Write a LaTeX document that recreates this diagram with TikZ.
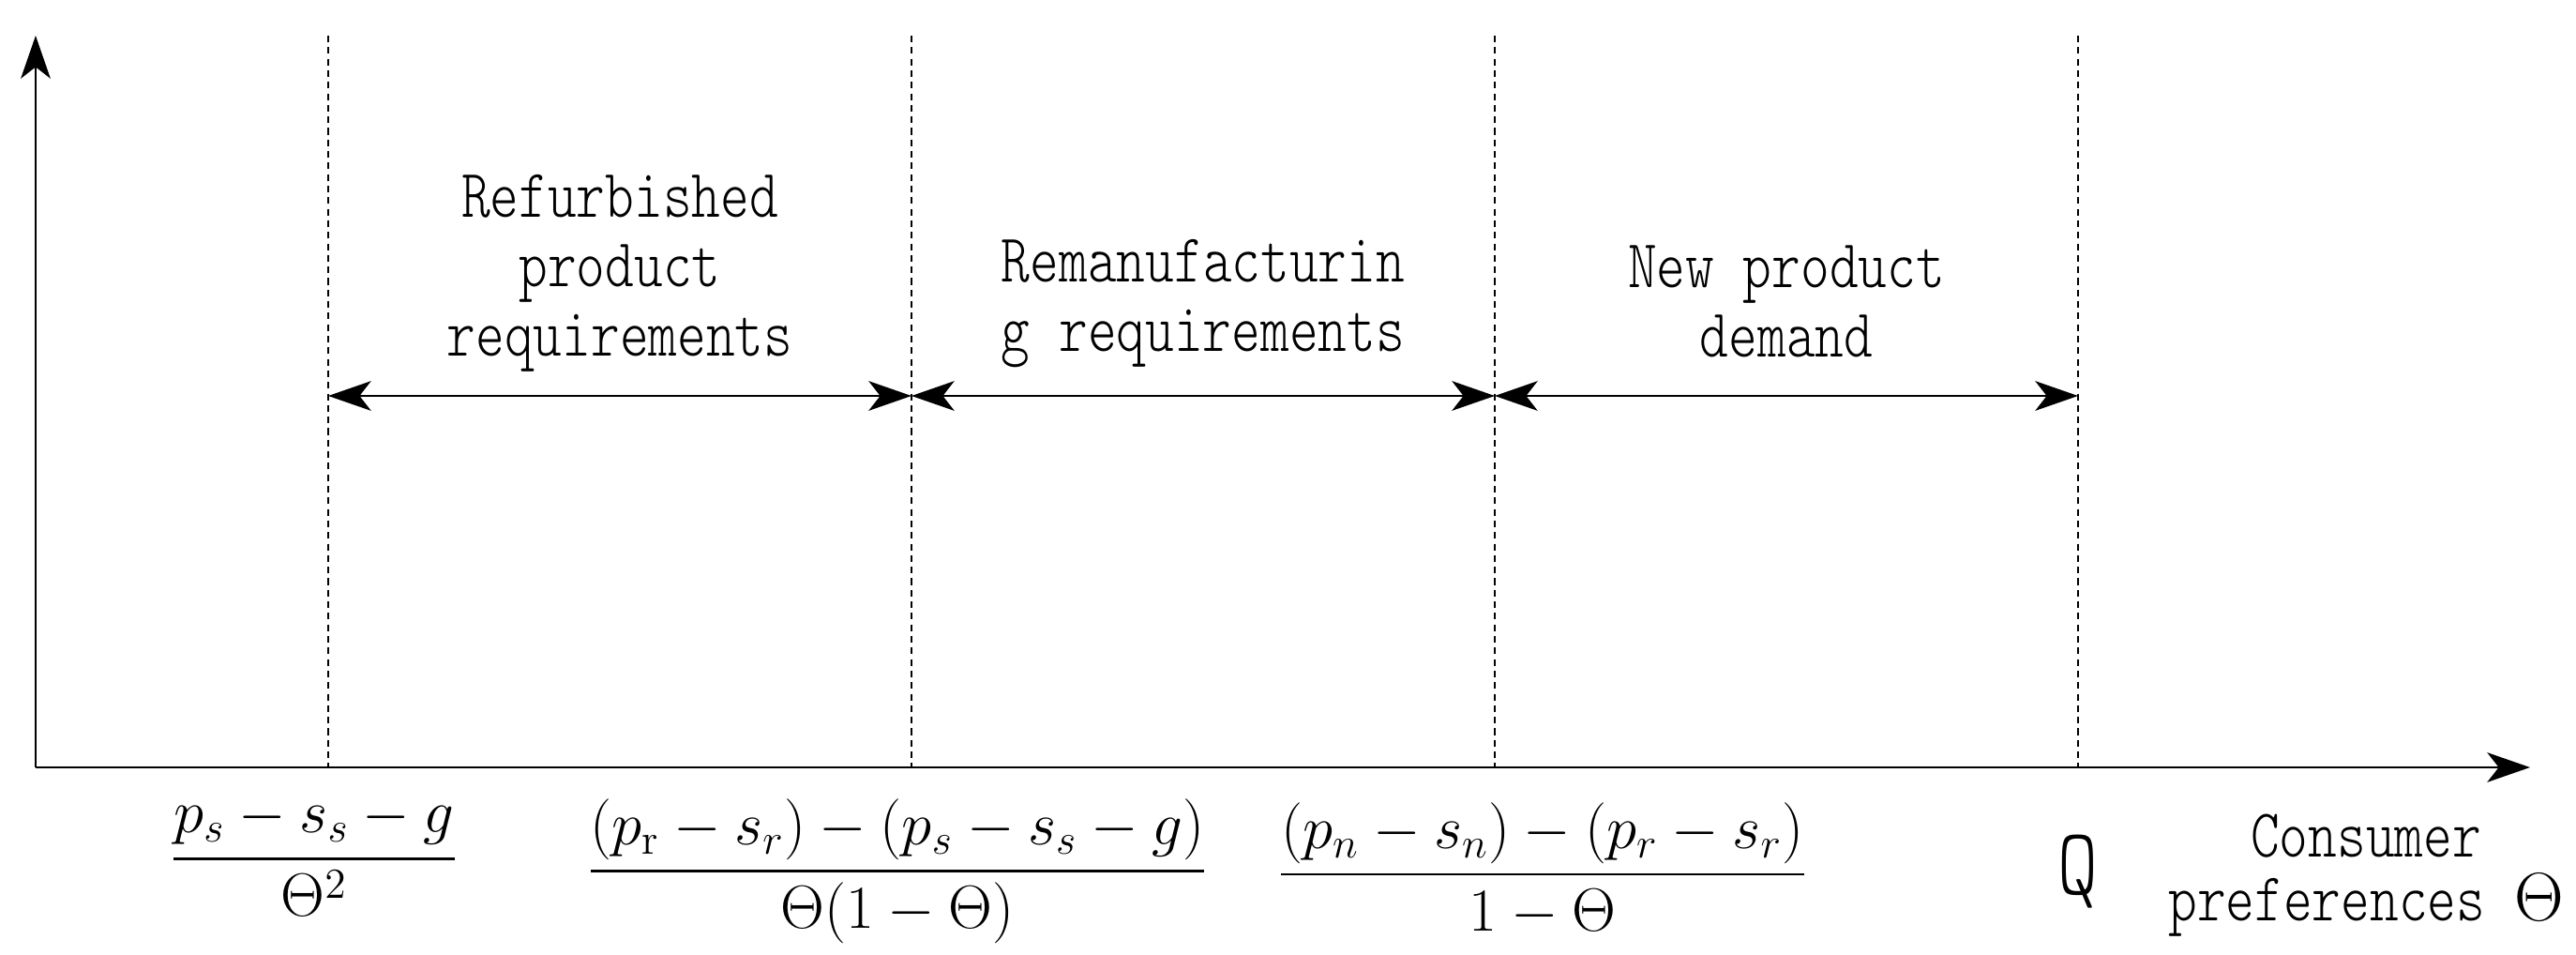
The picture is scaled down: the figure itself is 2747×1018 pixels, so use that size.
\documentclass[tikz,border=0pt]{standalone}
\usepackage{fix-cm}
\usepackage{amsmath}
\usepackage{fontspec}
\setmonofont{lmmonolt10-regular.otf}[FakeStretch=0.8]
\usepackage{tikz}
\usetikzlibrary{arrows.meta,positioning}
\tikzset{
  cpaxis/.style={-{Stealth[length=13pt,width=9pt,inset=3.5pt]}, line width=0.5pt},
  cpguide/.style={dash pattern=on 2pt off 1.5pt, line width=0.35pt},
  cpspan/.style={{Stealth[length=13pt,width=9pt,inset=3.5pt]}-{Stealth[length=13pt,width=9pt,inset=3.5pt]},
                 line width=0.5pt},
  cplabel/.style={font=\ttfamily\fontsize{20.8}{21}\selectfont, align=center, inner sep=0pt},
  cpfrac/.style={font=\fontsize{18.5}{22}\selectfont, inner sep=0pt},
}

\begin{document}
\begin{tikzpicture}[x=0.01cm,y=-0.01cm]
  \useasboundingbox (0,0) rectangle (2747,1018);
  % axes
  \coordinate (O) at (38,818);
  \coordinate (ytop) at (38,38);
  \coordinate (xend) at (2698,818);
  \draw[cpaxis] (O) -- (ytop);
  \draw[cpaxis] (O) -- (xend);
  % thresholds
  \foreach \i/\x in {1/350,2/972,3/1594,4/2216}
    {\coordinate (g\i) at (\x,422);
     \draw[cpguide] (\x,38) -- (\x,818);}
  \draw[cpspan] (g1) -- (g2);
  \draw[cpspan] (g2) -- (g3);
  \draw[cpspan] (g3) -- (g4);
  \node[cplabel] (refurb) at (661,291) {Refurbished\\product\\requirements};
  \node[cplabel] (reman) at (1283,324) {Remanufacturin\\g requirements};
  \node[cplabel] (newdem) at (1905,321) {New product\\demand};
  % threshold values
  \node[cpfrac] (t1) at (335,913) {$\dfrac{p_s-s_s-g}{\Theta^2}$};
  \node[cpfrac] (t2) at (957,929) {$\dfrac{(p_{\mathrm{r}}-s_r)-(p_s-s_s-g)}{\Theta(1-\Theta)}$};
  \node[cpfrac] (t3) at (1645,927) {$\dfrac{(p_n-s_n)-(p_r-s_r)}{1-\Theta}$};
  \node[cplabel, font=\ttfamily\fontsize{29}{30}\selectfont] (Q) at (2216,929) {Q};
  \node[cplabel, font=\ttfamily\fontsize{20.8}{19.5}\selectfont] (cons) at (2523,933)
    {Consumer\\preferences $\Theta$};
\end{tikzpicture}
\end{document}
